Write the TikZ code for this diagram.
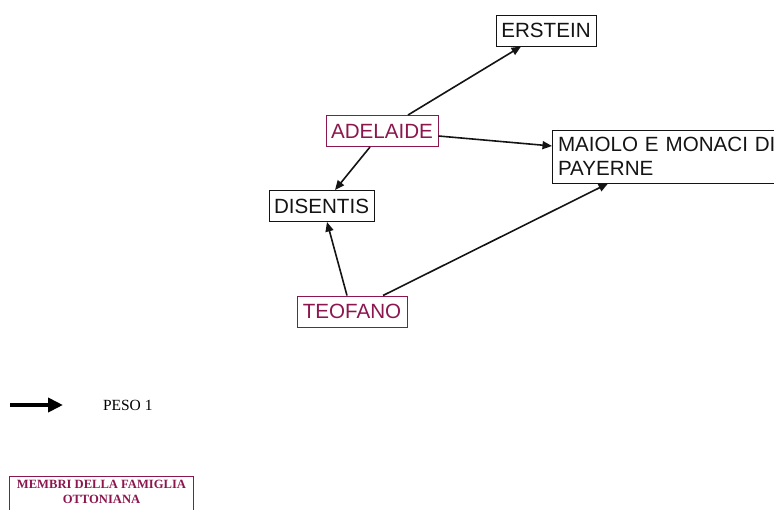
\documentclass[tikz,border=0pt]{standalone}
\usepackage{fontspec}
\setmainfont{Liberation Serif}
\newfontfamily\diagsans{Liberation Sans}
\usetikzlibrary{arrows.meta}
\definecolor{ottone}{RGB}{140,22,78}
\definecolor{inkline}{RGB}{20,20,20}
\tikzset{
  place/.style={draw=inkline, line width=1pt, font=\diagsans\fontsize{20.6}{23.5}\selectfont,
    text=inkline, inner xsep=5pt, inner ysep=0pt, minimum height=31pt},
  royal/.style={place, draw=ottone, text=ottone},
  link/.style={draw=inkline, line width=1.6pt, -{Triangle[length=9.5pt,width=8pt]}},
}
\begin{document}
\begin{tikzpicture}[x=1pt,y=-1pt]
  \useasboundingbox (0,0) rectangle (774,509);
  \clip (0,0) rectangle (774,509);

  % places and persons
  \node[place, minimum width=100pt] (erstein) at (546,30.5) {ERSTEIN};
  \node[royal, minimum width=112pt] (adelaide) at (382,131) {ADELAIDE};
  \node[place, minimum width=105pt] (disentis) at (321.5,206) {DISENTIS};
  \node[royal, minimum width=110pt] (teofano) at (352,311.5) {TEOFANO};
  \node[place, anchor=west, align=left, minimum height=53pt, inner xsep=5.5pt,
        text width=230pt] (maiolo) at (552,156.5) {MAIOLO E MONACI DI\\PAYERNE};

  % relations
  \draw[link] ([xshift=26pt]adelaide.north) -- ([xshift=-25pt]erstein.south);
  \draw[link] ([yshift=-5pt]adelaide.east) -- ([yshift=10.5pt]maiolo.west);
  \draw[link] ([xshift=-12pt]adelaide.south) -- ([xshift=13.5pt]disentis.north);
  \draw[link] ([xshift=-5pt]teofano.north) -- ([xshift=5.5pt]disentis.south);
  \draw[link] ([xshift=31pt]teofano.north) -- ([xshift=56pt]maiolo.south west);

  % legend
  \coordinate (legA) at (10,405);
  \coordinate (legB) at (63,405);
  \draw[draw=black, line width=4pt, -{Triangle[length=15pt,width=14pt]}] (legA) -- (legB);
  \node[anchor=west, font=\fontsize{15.5}{18}\selectfont] (peso) at (99.5,405.5) {PESO 1};

  \node[draw=ottone, line width=1pt, anchor=north west, minimum width=184pt,
        minimum height=45pt, align=center, text=ottone, inner ysep=4pt,
        font=\bfseries\fontsize{12.6}{15}\selectfont] (famiglia) at (9,476)
        {MEMBRI DELLA FAMIGLIA\\OTTONIANA\\\strut};
\end{tikzpicture}
\end{document}
